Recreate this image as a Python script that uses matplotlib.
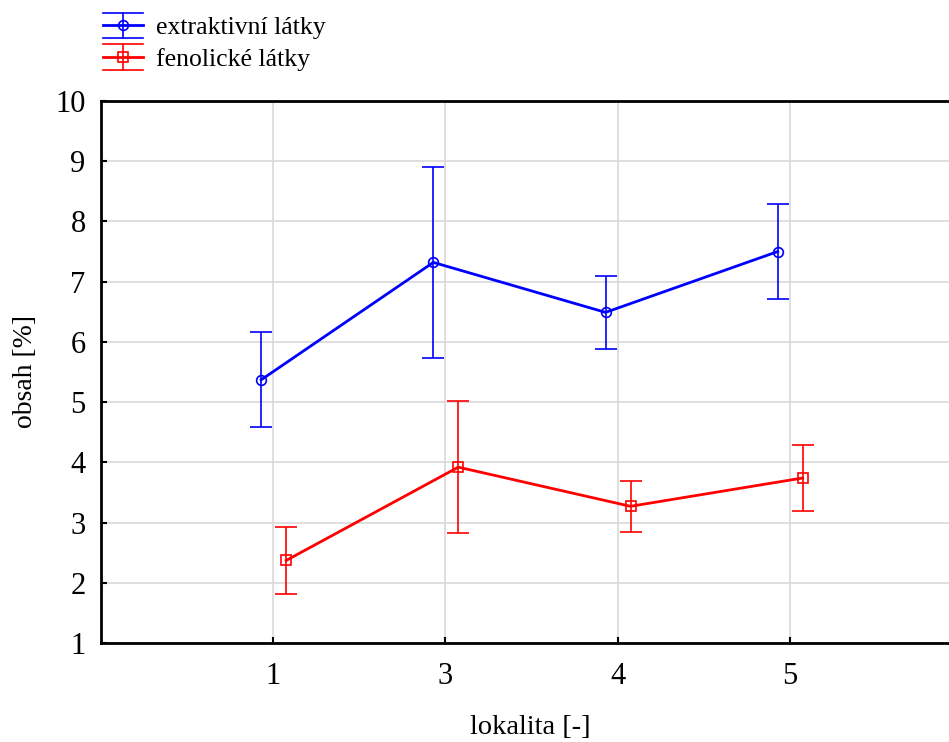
import matplotlib.pyplot as plt
import numpy as np
from matplotlib.lines import Line2D
from matplotlib.legend_handler import HandlerBase

plt.rcParams['font.family'] = ['Liberation Serif', 'DejaVu Serif']

lokality = ['1', '3', '4', '5']
extr_mean = [5.37, 7.32, 6.49, 7.50]
extr_err = [0.79, 1.58, 0.61, 0.79]
fen_mean = [2.37, 3.92, 3.27, 3.74]
fen_err = [0.55, 1.10, 0.42, 0.55]

x = np.arange(len(lokality))


class ErrHandle(HandlerBase):
    # legend key: main line, marker, vertical bar and caps as wide as the key
    def create_artists(self, legend, orig, xd, yd, width, height, fontsize, trans):
        c = orig.get_color()
        mk = orig.get_marker()
        ym = yd + height / 2
        h = height * 0.7
        out = [
            Line2D([xd, xd + width], [ym, ym], color=c, lw=2),
            Line2D([xd, xd + width], [ym + h, ym + h], color=c, lw=1.2),
            Line2D([xd, xd + width], [ym - h, ym - h], color=c, lw=1.2),
            Line2D([xd + width / 2] * 2, [ym - h, ym + h], color=c, lw=1.2),
            Line2D([xd + width / 2], [ym], color=c, marker=mk, ms=7,
                   mfc='none', mew=1.2, ls='none'),
        ]
        for a in out:
            a.set_transform(trans)
        return out


fig = plt.figure(figsize=(9.49, 7.42), dpi=100)
ax = fig.add_axes([101 / 949, 1 - 643 / 742, 861 / 949, (643 - 101) / 742])

# blue series shifted a bit left, red a bit right (like the original)
ax.errorbar(x - 0.07, extr_mean, yerr=extr_err, color='#0000ff', lw=2, marker='o',
            ms=7, mfc='none', mew=1.2, elinewidth=1.2, capsize=8, capthick=1.2)
ax.errorbar(x + 0.075, fen_mean, yerr=fen_err, color='#ff0000', lw=2, marker='s',
            ms=7, mfc='none', mew=1.2, elinewidth=1.2, capsize=8, capthick=1.2)

ax.set_xlim(-1, 4)
ax.set_ylim(1, 10)
ax.set_xticks(x)
ax.set_xticklabels(lokality)
ax.set_yticks(range(1, 11))
ax.grid(True, color='#d9d9d9', lw=1.2)
ax.set_axisbelow(True)
ax.tick_params(direction='in', length=4, width=1.5, labelsize=22)
ax.tick_params(axis='y', pad=11)
ax.tick_params(axis='x', pad=14)
for s in ax.spines.values():
    s.set_linewidth(2)
ax.spines['right'].set_visible(False)

ax.set_xlabel('lokalita [-]', fontsize=20.5)
ax.set_ylabel('obsah [%]', fontsize=20)
ax.xaxis.set_label_coords((530 - 101) / 861, -(715 - 643) / 542)
ax.yaxis.set_label_coords(-(101 - 38) / 861, 0.5)

handles = [Line2D([], [], color='#0000ff', marker='o'),
           Line2D([], [], color='#ff0000', marker='s')]
fig.legend(handles, ['extraktivní látky', 'fenolické látky'],
           handler_map={Line2D: ErrHandle()},
           loc='upper left', bbox_to_anchor=(0.087, 1.006), frameon=False,
           fontsize=18.5, handlelength=1.55, handletextpad=0.5, labelspacing=0.35,
           borderpad=0.3)

fig.savefig('out.png', dpi=100)
